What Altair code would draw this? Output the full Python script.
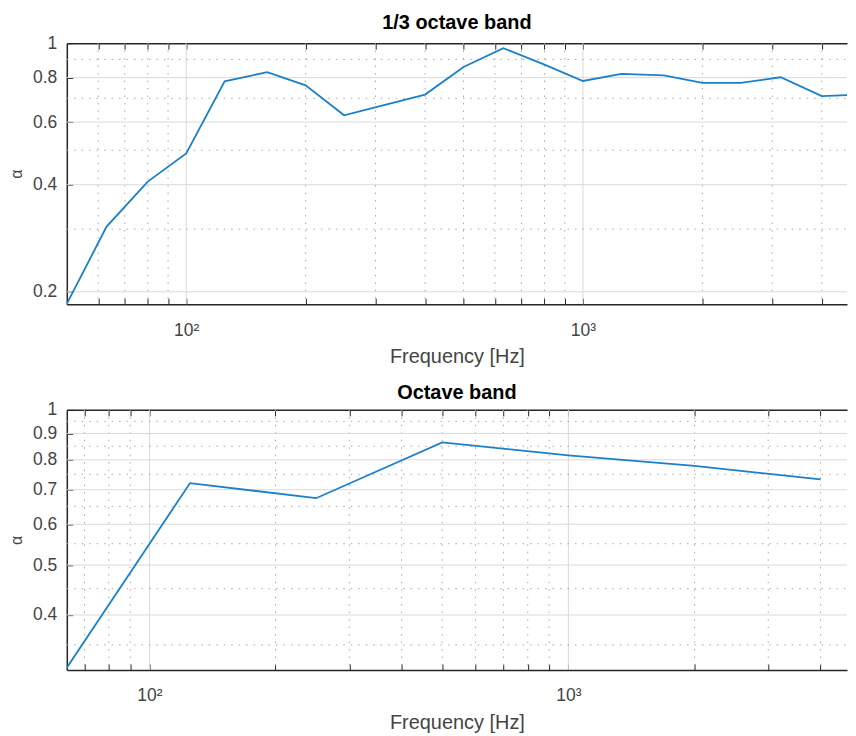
import altair as alt
import pandas as pd

# ---- data ----
third_freq = [50, 63, 80, 100, 125, 160, 200, 250, 315, 400, 500, 630, 800,
              1000, 1250, 1600, 2000, 2500, 3150, 4000, 5000]
third_alpha = [0.185, 0.305, 0.408, 0.490, 0.781, 0.829, 0.761, 0.627, 0.670,
               0.717, 0.857, 0.968, 0.870, 0.783, 0.820, 0.812, 0.773, 0.773,
               0.802, 0.710, 0.717]

oct_freq = [63, 125, 250, 500, 1000, 2000, 4000]
oct_alpha = [0.313, 0.721, 0.674, 0.865, 0.816, 0.779, 0.733]

top_x_minor = [60, 70, 80, 90, 200, 300, 400, 500, 600, 700, 800, 900, 2000, 3000, 4000]
bot_x_minor = [70, 80, 90, 200, 300, 400, 500, 600, 700, 800, 900, 2000, 3000, 4000]
x_major = [100, 1000]

top_y_labels = [0.2, 0.4, 0.6, 0.8, 1.0]
top_y_major = [0.2, 0.4, 0.6, 0.8]
top_y_minor = [0.3, 0.5, 0.7, 0.9]

bot_y_labels = [0.4, 0.5, 0.6, 0.7, 0.8, 0.9, 1.0]
bot_y_major = [0.4, 0.5, 0.6, 0.7, 0.8, 0.9]
bot_y_minor = [0.35, 0.45, 0.55, 0.65, 0.75, 0.85, 0.95]

# visible frequency window (the reference is cropped at the right edge)
top_xdom = [50, 4630]
top_ydom = [0.1845, 1.0]
bot_xdom = [63.5, 4625]
bot_ydom = [0.313, 1.0]

# ---- style ----
FONT = "Liberation Sans"
LABEL_COLOR = "#444444"
FRAME = "#262626"
GRID_MAJOR = "#d9d9d9"
GRID_MINOR = "#a8a8a8"
LINE_COLOR = "#1a80c8"
W = 783


def panel(freq, alpha, xdom, ydom, x_minor, y_minor, y_major, y_labels,
          title, H, title_offset):
    xs = alt.Scale(type="log", domain=xdom, nice=False)
    ys = alt.Scale(type="log", domain=ydom, nice=False)
    x_all = sorted(x_minor + x_major)

    main_x = alt.Axis(orient="bottom", values=x_major,
                      labelExpr="datum.value == 100 ? '10²' : '10³'",
                      ticks=False, domain=True, domainColor=FRAME, domainWidth=1.5,
                      grid=False,
                      title="Frequency [Hz]", labelPadding=17, titlePadding=8,
                      labelFont=FONT, labelFontSize=17.5, labelColor=LABEL_COLOR,
                      titleFont=FONT, titleFontSize=20, titleColor=LABEL_COLOR,
                      titleFontWeight="normal")
    tick_bottom = alt.Axis(orient="top", offset=-H, values=x_all, labels=False,
                           domain=False, grid=False, ticks=True, tickSize=6,
                           tickColor=FRAME, tickWidth=1, title=None)
    tick_top = alt.Axis(orient="bottom", offset=-H, values=x_all, labels=False,
                        domain=True, domainColor=FRAME, domainWidth=1.5,
                        grid=False, ticks=True, tickSize=6,
                        tickColor=FRAME, tickWidth=1, title=None)
    main_y = alt.Axis(orient="left", values=y_labels, format="~g",
                      ticks=False, domain=True, domainColor=FRAME, domainWidth=1.5,
                      grid=False, title="α",
                      labelPadding=10, titlePadding=8,
                      labelFont=FONT, labelFontSize=17.5, labelColor=LABEL_COLOR,
                      titleFont=FONT, titleFontSize=16, titleColor=LABEL_COLOR,
                      titleFontWeight="normal")
    tick_left = alt.Axis(orient="right", offset=-W, values=y_labels, labels=False,
                         domain=False, grid=False, ticks=True, tickSize=6,
                         tickColor=FRAME, tickWidth=1, title=None)

    xminor = alt.Chart(pd.DataFrame({"f": x_minor})).mark_rule(
        color=GRID_MINOR, strokeWidth=1, strokeDash=[1.5, 6]
    ).encode(
        x=alt.X("f:Q", scale=xs, axis=main_x),
        y=alt.datum(ydom[1], scale=ys, axis=None),
        y2=alt.datum(ydom[0]),
    )
    xmajor = alt.Chart(pd.DataFrame({"f": x_major})).mark_rule(
        color=GRID_MAJOR, strokeWidth=1
    ).encode(
        x=alt.X("f:Q", scale=xs, axis=tick_bottom),
        y=alt.datum(ydom[1], scale=ys, axis=None),
        y2=alt.datum(ydom[0]),
    )
    yminor = alt.Chart(pd.DataFrame({"a": y_minor})).mark_rule(
        color=GRID_MINOR, strokeWidth=1, strokeDash=[1.5, 6]
    ).encode(
        y=alt.Y("a:Q", scale=ys, axis=main_y),
        x=alt.datum(xdom[0], scale=xs, axis=None),
        x2=alt.datum(xdom[1]),
    )
    ymajor = alt.Chart(pd.DataFrame({"a": y_major})).mark_rule(
        color=GRID_MAJOR, strokeWidth=1
    ).encode(
        y=alt.Y("a:Q", scale=ys, axis=tick_left),
        x=alt.datum(xdom[0], scale=xs, axis=None),
        x2=alt.datum(xdom[1]),
    )
    line = alt.Chart(pd.DataFrame({"f": freq, "a": alpha})).mark_line(
        color=LINE_COLOR, strokeWidth=1.8, clip=True
    ).encode(
        x=alt.X("f:Q", scale=xs, axis=tick_top),
        y=alt.Y("a:Q", scale=ys, axis=None),
    )

    return alt.layer(xminor, xmajor, yminor, ymajor, line).resolve_axis(
        x="independent", y="independent"
    ).properties(
        width=W, height=H,
        title=alt.TitleParams(title, font=FONT, fontSize=20, fontWeight="bold",
                              color="#000000", anchor="middle", frame="group",
                              offset=title_offset),
    )


top = panel(third_freq, third_alpha, top_xdom, top_ydom, top_x_minor,
            top_y_minor, top_y_major, top_y_labels, "1/3 octave band", 262, 1.5)
bottom = panel(oct_freq, oct_alpha, bot_xdom, bot_ydom, bot_x_minor,
               bot_y_minor, bot_y_major, bot_y_labels, "Octave band", 261, -2)

chart = alt.vconcat(top, bottom, spacing=16).properties(
    padding={"left": 0, "top": 3, "right": 0, "bottom": 0}
).configure_view(strokeWidth=0)

chart.save("out.html", embed_options={"renderer": "svg", "actions": False})
